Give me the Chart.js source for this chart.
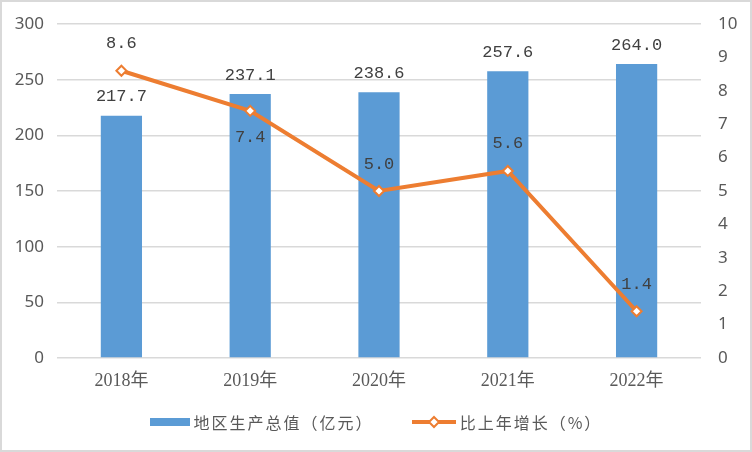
<!DOCTYPE html>
<html lang="zh">
  <head>
    <meta charset="UTF-8" />
    <title>地区生产总值</title>
    <script src="https://cdn.jsdelivr.net/npm/chart.js@4/dist/chart.umd.min.js"></script>
    <style>
      body {
        margin: 0;
        background: #fff;
      }
      #wrap {
        position: relative;
        width: 752px;
        height: 452px;
        box-sizing: border-box;
        border: 2px solid #d9d9d9;
        background: #fff;
      }
      #chart {
        display: block;
      }
      #legend {
        position: absolute;
        left: 0;
        right: 0;
        top: 408px;
        height: 24px;
        display: flex;
        justify-content: center;
        align-items: center;
        font-family: "Noto Sans CJK SC", sans-serif;
        font-size: 16px;
        letter-spacing: 2px;
        color: #595959;
      }
      .item {
        display: flex;
        align-items: center;
      }
      .box {
        width: 40px;
        height: 8px;
        background: #5b9bd5;
        margin-right: 4px;
      }
      .item + .item {
        margin-left: 38px;
      }
    </style>
  </head>
  <body>
    <div id="wrap">
      <canvas id="chart" width="748" height="448"></canvas>
      <div id="legend">
        <div class="item"><span class="box"></span><span id="lbl-gdp"></span></div>
        <div class="item">
          <svg width="44" height="14" style="margin-right: 4px">
            <line x1="0" y1="7" x2="44" y2="7" stroke="#ed7d31" stroke-width="4" />
            <polygon points="22,2 27,7 22,12 17,7" fill="#fff" stroke="#ed7d31" stroke-width="2" />
          </svg>
          <span id="lbl-growth"></span>
        </div>
      </div>
    </div>
    <script>
      const years = ["2018年", "2019年", "2020年", "2021年", "2022年"];
      const gdp = [217.7, 237.1, 238.6, 257.6, 264.0];
      const growth = [8.6, 7.4, 5.0, 5.6, 1.4];
      const gdpTicks = [0, 50, 100, 150, 200, 250, 300];
      const growthTicks = [0, 1, 2, 3, 4, 5, 6, 7, 8, 9, 10];
      const gdpName = "地区生产总值（亿元）";
      const growthName = "比上年增长（%）";
      // where the growth label sits relative to its point
      const growthLabelSide = ["above", "below", "above", "above", "above"];

      document.getElementById("lbl-gdp").textContent = gdpName;
      document.getElementById("lbl-growth").textContent = growthName;

      const grey = "#595959";
      const gridColor = "#d9d9d9";

      // value labels on bars and points
      const valueLabels = {
        id: "valueLabels",
        afterDatasetsDraw(chart) {
          const ctx = chart.ctx;
          ctx.save();
          ctx.font = '17px "Liberation Mono", monospace';
          ctx.fillStyle = "#404040";
          ctx.textAlign = "center";
          ctx.textBaseline = "middle";
          chart.getDatasetMeta(1).data.forEach((bar, i) => {
            ctx.fillText(gdp[i].toFixed(1), bar.x, bar.y - 19);
          });
          chart.getDatasetMeta(0).data.forEach((pt, i) => {
            const dy = growthLabelSide[i] === "below" ? 27 : -27;
            ctx.fillText(growth[i].toFixed(1), pt.x, pt.y + dy);
          });
          ctx.restore();
        },
      };

      // fixed axis widths, no extra label padding above/below the plot
      function fitSide(width) {
        return (s) => {
          s.width = width;
          s.paddingTop = 0;
          s.paddingBottom = 0;
        };
      }

      new Chart(document.getElementById("chart"), {
        data: {
          labels: years,
          datasets: [
            {
              type: "line",
              label: growthName,
              data: growth,
              yAxisID: "y1",
              order: 0,
              borderColor: "#ed7d31",
              borderWidth: 4,
              tension: 0,
              pointStyle: "rectRot",
              pointRadius: 5,
              pointBorderWidth: 2,
              pointBackgroundColor: "#fff",
              pointBorderColor: "#ed7d31",
            },
            {
              type: "bar",
              label: gdpName,
              data: gdp,
              yAxisID: "y",
              order: 1,
              backgroundColor: "#5b9bd5",
              categoryPercentage: 1,
              barPercentage: 0.32,
            },
          ],
        },
        options: {
          responsive: false,
          animation: false,
          layout: { padding: { top: 22, bottom: 52, left: 0, right: 0 } },
          plugins: { legend: { display: false }, tooltip: { enabled: false } },
          scales: {
            x: {
              grid: { display: false },
              border: { display: false },
              ticks: {
                color: grey,
                padding: 4,
                font: { family: '"Liberation Serif", "Noto Sans CJK SC"', size: 18 },
              },
              afterFit(s) {
                s.height = 40;
                s.paddingLeft = 0;
                s.paddingRight = 0;
              },
            },
            y: {
              position: "left",
              min: 0,
              max: 300,
              afterBuildTicks(s) {
                s.ticks = gdpTicks.map((v) => ({ value: v }));
              },
              grid: { color: gridColor, lineWidth: 1.5, drawTicks: false },
              border: { display: false },
              ticks: {
                color: grey,
                padding: 13,
                font: { family: '"Noto Sans"', size: 17 },
              },
              afterFit: fitSide(55),
            },
            y1: {
              position: "right",
              min: 0,
              max: 10,
              afterBuildTicks(s) {
                s.ticks = growthTicks.map((v) => ({ value: v }));
              },
              grid: { drawOnChartArea: false, drawTicks: false },
              border: { display: false },
              ticks: {
                color: grey,
                padding: 17,
                font: { family: '"Noto Sans"', size: 17 },
              },
              afterFit: fitSide(49),
            },
          },
        },
        plugins: [valueLabels],
      });
    </script>
  </body>
</html>
